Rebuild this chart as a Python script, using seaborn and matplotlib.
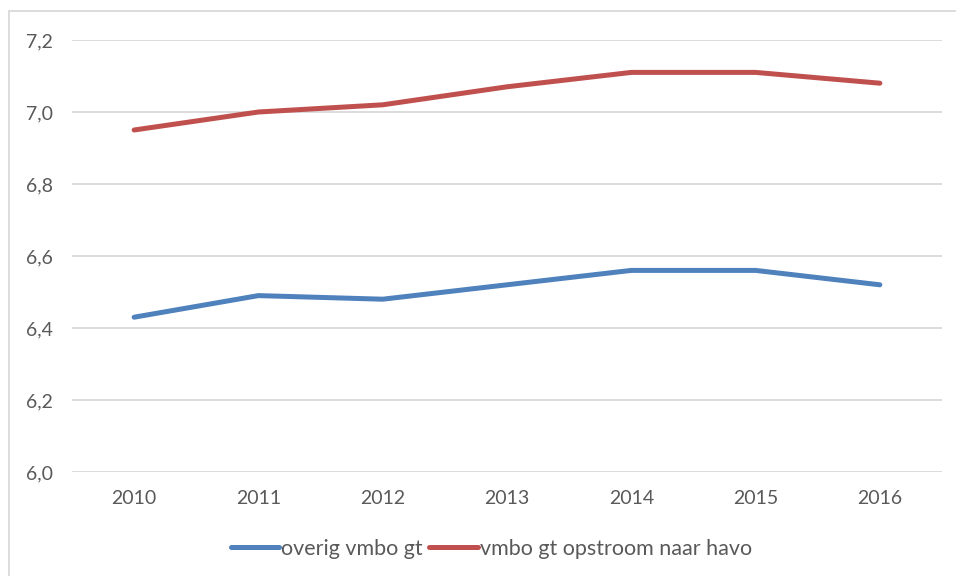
import matplotlib
matplotlib.use("Agg")
import matplotlib.pyplot as plt
import seaborn as sns
import pandas as pd
from matplotlib.patches import Rectangle
from matplotlib.ticker import FuncFormatter

years = [2010, 2011, 2012, 2013, 2014, 2015, 2016]
overig = [6.43, 6.49, 6.48, 6.52, 6.56, 6.56, 6.52]
opstroom = [6.95, 7.00, 7.02, 7.07, 7.11, 7.11, 7.08]
series_names = ["overig vmbo gt", "vmbo gt opstroom naar havo"]
yticks = [6.0, 6.2, 6.4, 6.6, 6.8, 7.0, 7.2]

df = pd.DataFrame({
    "jaar": years * 2,
    "waarde": overig + opstroom,
    "reeks": [series_names[0]] * len(years) + [series_names[1]] * len(years),
})

sns.set_theme(style="white")
plt.rcParams["font.family"] = ["Lato", "DejaVu Sans"]

W, H = 956, 576
fig = plt.figure(figsize=(W / 100, H / 100), dpi=100)
ax = fig.add_axes([72 / W, 1 - 472 / H, (942 - 72) / W, (472 - 40) / H])

palette = {series_names[0]: "#4f81bd", series_names[1]: "#c0504d"}
sns.lineplot(data=df, x="jaar", y="waarde", hue="reeks", palette=palette,
             linewidth=3.6, ax=ax, legend=True, solid_capstyle="round")

ax.set_xlim(2009.5, 2016.5)
ax.set_ylim(6.0, 7.2)
ax.set_yticks(yticks)
ax.set_xticks(years)
ax.set_xticklabels([str(y) for y in years])
ax.yaxis.set_major_formatter(FuncFormatter(lambda v, p: f"{v:.1f}".replace(".", ",")))
ax.grid(axis="y", color="#d9d9d9", linewidth=1.3)
ax.set_axisbelow(True)
for s in ax.spines.values():
    s.set_visible(False)
ax.tick_params(axis="both", length=0, labelsize=14, colors="#595959")
ax.tick_params(axis="y", pad=14)
ax.tick_params(axis="x", pad=13)
ax.set_xlabel("")
ax.set_ylabel("")

handles, labels = ax.get_legend_handles_labels()
leg_y = (1 - 549 / H - (1 - 472 / H)) / ((472 - 40) / H)
ax.legend(handles, labels, loc="center", bbox_to_anchor=(0.5 - 15.5 / 870, leg_y),
          bbox_transform=ax.transAxes, ncol=2, frameon=False, fontsize=15.5,
          handlelength=2.25, handletextpad=0.1, columnspacing=0.3, labelcolor="#595959",
          borderpad=0, borderaxespad=0)

fig.patches.append(Rectangle((9 / W, -0.05), 1.2, 1 - 11 / H + 0.05, transform=fig.transFigure,
                             fill=False, edgecolor="#d9d9d9", linewidth=1.3))

fig.savefig("out.png", dpi=100)
